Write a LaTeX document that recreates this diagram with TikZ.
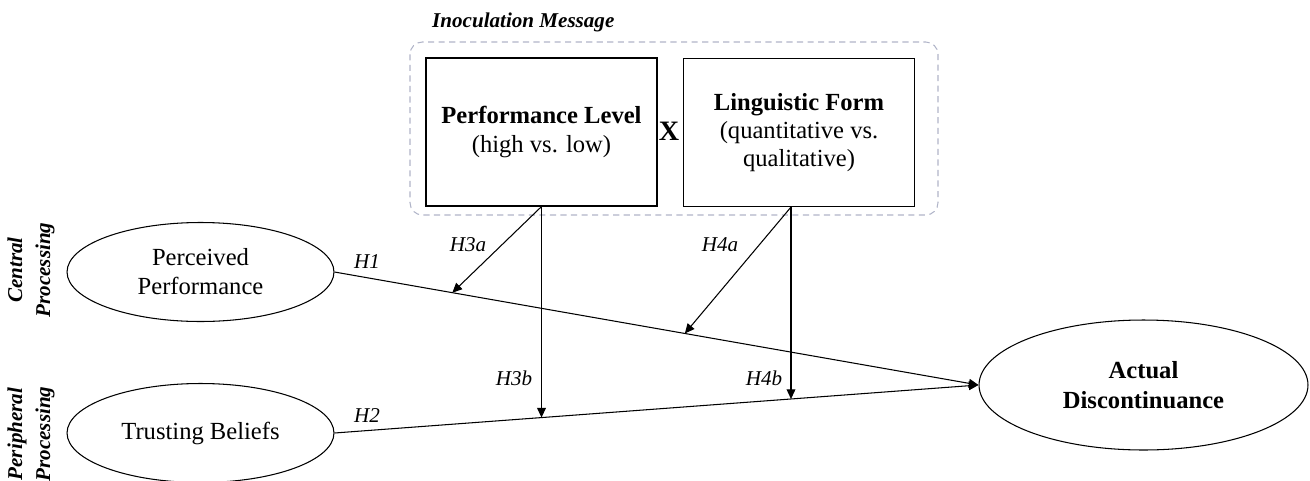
\documentclass[tikz,border=0pt]{standalone}
\usepackage{fontspec}
\setmainfont{Liberation Serif}
\usetikzlibrary{shapes.geometric,arrows.meta,calc}
\definecolor{framegray}{RGB}{176,180,200}

\begin{document}
\begin{tikzpicture}[x=0.02cm,y=-0.02cm,
  construct/.style={draw,ellipse,line width=0.6pt,minimum width=5.34cm,minimum height=1.98cm,
    inner sep=0pt,align=center,font=\fontsize{14}{16.5}\selectfont},
  treatment/.style={draw,rectangle,line width=0.65pt,minimum width=4.62cm,minimum height=2.96cm,
    align=center,font=\fontsize{14}{16}\selectfont},
  hyp/.style={font=\fontsize{12}{14}\selectfont\itshape},
  sidelabel/.style={rotate=90,align=center,font=\fontsize{12}{16}\selectfont\bfseries\itshape},
  msgframe/.style={draw=framegray,dash pattern=on 3.5pt off 2.5pt,rounded corners=7pt,line width=0.6pt},
  effect/.style={line width=0.6pt,-{Triangle[length=5.5pt,width=5pt]}}]

\useasboundingbox (0,0) rectangle (1310,480);

% Message
\draw[msgframe] (410,42) rectangle (938,215);
\node[anchor=west,font=\fontsize{12}{14}\selectfont\bfseries\itshape] (msg) at (426,22) {Inoculation Message};

\node[treatment] (level) at (541.5,132) {\textbf{Performance Level}\\(high vs. low)};
\node[treatment] (form) at (799,132.5) {\textbf{Linguistic Form}\\(quantitative vs.\\qualitative)};
\node[font=\fontsize{16}{18}\selectfont\bfseries] (times) at (669,131) {X};

% Constructs
\node[sidelabel] (central) at (31,270) {Central\\Processing};
\node[sidelabel] (periph) at (31,434) {Peripheral\\Processing};

\node[construct] (perf) at (200.5,272) {Perceived\\Performance};
\node[construct] (trust) at (200.5,433) {Trusting Beliefs};
\node[construct,minimum width=6.58cm,minimum height=2.6cm,
  font=\fontsize{14}{17}\selectfont\bfseries] (disc) at (1143.5,385) {Actual\\Discontinuance};

% Main effects
\draw[effect] (perf.east) -- (disc.west);
\draw[effect] (trust.east) -- (disc.west);

% Moderation
\coordinate (h3a) at ($(perf.east)!0.183!(disc.west)$);
\coordinate (h4a) at ($(perf.east)!0.544!(disc.west)$);
\coordinate (h3b) at ($(trust.east)!0.322!(disc.west)$);
\coordinate (h4b) at ($(trust.east)!0.709!(disc.west)$);

\draw[effect] (level.south) -- (h3a);
\draw[effect] (level.south) -- (level.south |- h3b);
\draw[effect] ([xshift=-0.16cm]form.south) -- (h4a);
\draw[effect] ([xshift=-0.16cm]form.south) -- ([xshift=-0.16cm]form.south |- h4b);

\node[hyp] (lh1) at (367,262) {H1};
\node[hyp] (lh2) at (367,416) {H2};
\node[hyp] (lh3a) at (468,245) {H3a};
\node[hyp] (lh3b) at (514,378) {H3b};
\node[hyp] (lh4a) at (720,245) {H4a};
\node[hyp] (lh4b) at (764,378) {H4b};

\end{tikzpicture}
\end{document}
